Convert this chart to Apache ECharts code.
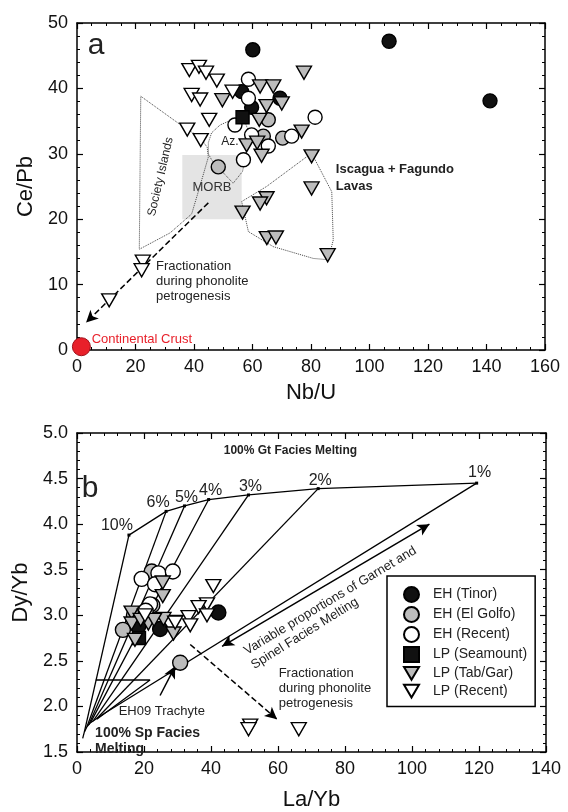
<!DOCTYPE html>
<html><head><meta charset="utf-8">
<script src="https://cdn.jsdelivr.net/npm/echarts/dist/echarts.min.js"></script>
<style>html,body{margin:0;padding:0;background:#fff}#c{width:568px;height:812px}</style>
</head><body><div id="c"></div>
<script>
// ---------- Panel a : Nb/U vs Ce/Pb ----------
const aTinor = [[60.1,45.9],[106.7,47.2],[141.2,38.1],[56.3,39.5],[59.7,37.1],[69.4,38.5]];
const aGolfo = [[65.4,35.2],[63.7,32.7],[70.3,32.4],[48.3,28.0]];
const aRecent = [[58.6,41.4],[58.6,38.5],[54.0,34.4],[59.7,32.9],[65.4,31.2],[73.4,32.7],[81.4,35.6],[56.9,29.1]];
const aSeamount = [[56.6,35.6]];
const aTabGar = [[49.7,38.2],[62.6,40.3],[67.1,40.3],[77.6,42.4],[64.8,37.3],[70.0,37.7],[62.3,35.2],[58.0,31.3],[61.6,31.7],[63.1,29.7],[76.8,33.4],[80.2,29.6],[80.2,24.7],[64.8,23.2],[62.6,22.4],[56.6,21.0],[64.9,17.1],[68.0,17.2],[85.7,14.5]];
const aLPRecent = [[38.4,42.8],[41.7,43.3],[44.1,42.4],[47.8,41.2],[39.2,39.0],[42.1,38.3],[53.2,39.5],[45.2,35.2],[37.7,33.7],[42.3,32.1],[22.5,13.5],[22.1,12.2],[11.0,7.6]];
const aCrust = [[1.5,0.5]];
const societyPoly = [[21.8,38.8],[35.8,34.3],[42.1,32.5],[44.5,31.0],[44.9,29.5],[42.0,25.0],[39.2,20.8],[31.8,17.9],[21.3,15.4],[21.8,38.8]];
const azPoly = [[56.6,35.8],[52.9,35.2],[48.9,34.4],[46.0,33.2],[44.9,31.7],[44.9,30.0],[46.0,29.1],[48.3,27.9],[53.4,25.5],[56.6,27.3],[58.0,30.7],[58.6,33.5],[56.6,35.8]];
const iscPoly = [[80.2,30.1],[87.1,24.2],[87.6,16.8],[85.9,13.8],[80.8,14.0],[69.4,15.5],[67.1,15.8],[58.6,18.1],[56.3,22.7],[64.8,25.0],[80.2,30.1]];
const morbBox = [[36.0,20.0],[56.3,29.8]];
const aFracArrow = [[44.9,22.5],[3.1,4.2]];

// ---------- Panel b : La/Yb vs Dy/Yb ----------
const bTinor = [[42.2,3.03],[24.8,2.85],[18.3,2.88]];
const bGolfo = [[22.3,3.48],[13.7,2.84],[22.5,3.11],[30.8,2.48],[17.0,3.00]];
const bRecent = [[19.3,3.40],[24.3,3.46],[28.6,3.48],[23.3,3.34],[21.8,3.12],[20.5,3.05]];
const bSeamount = [[18.5,2.75]];
const bTabGar = [[25.6,3.36],[25.6,3.21],[16.3,3.03],[16.3,2.91],[21.3,2.91],[25.8,2.96],[28.8,2.80],[17.3,2.73],[19.0,2.95],[23.0,2.95]];
const bLPRecent = [[40.7,3.32],[38.8,3.12],[36.3,3.09],[38.8,3.00],[33.3,2.98],[33.8,2.89],[29.3,2.92],[20.3,3.00],[51.7,1.79],[51.2,1.75],[66.2,1.75]];
const gtCurve = [[15.5,3.88],[26.6,4.14],[32.1,4.20],[39.3,4.27],[51.2,4.32],[72.0,4.39],[119.3,4.45]];
const gtLabels = ['10%','6%','5%','4%','3%','2%','1%'];
const spCurve = [[1.7,1.65],[2.2,1.72],[3.0,1.78],[3.5,1.80],[4.0,1.82],[4.8,1.84],[6.0,1.87],[8.0,1.92]];
const spEnds = [[2.2,1.72],[3.0,1.78],[3.5,1.80],[4.0,1.82],[4.8,1.84],[6.0,1.87],[8.0,1.92]];
const extraLine1 = [[5.6,2.29],[21.8,2.29],[5.9,1.86]];
const extraLine2 = [[20.0,3.0],[33.0,3.0]];
const bMixArrow = [[43.3,2.66],[105.2,4.0]];
const bFracArrow = [[33.8,2.68],[59.7,1.86]];
const bTrachyteArrow = [[24.8,2.12],[29.3,2.44]];

const legendNames = ['EH (Tinor)','EH (El Golfo)','EH (Recent)','LP (Seamount)','LP (Tab/Gar)','LP (Recent)'];

const FONT = '"Liberation Sans", Arial, Helvetica, sans-serif';
const TRI = 'path://M0,0L20,0L10,17Z';
const GREY = '#bcbcbc';

function axisX(grid, min, max, interval, pos, name, show, minorSplit, gap) {
  return {
    type:'value', gridIndex:grid, min, max, interval, position:pos,
    name: show ? name : '', nameLocation:'middle', nameGap:gap || 32,
    nameTextStyle:{fontFamily:FONT, fontSize:22, color:'#111'},
    axisLine:{show:true, onZero:false, lineStyle:{color:'#000', width:1.5}},
    axisTick:{show:true, inside:true, length:6, lineStyle:{color:'#000', width:1.2}},
    minorTick:{show:true, splitNumber:minorSplit, length:3, lineStyle:{color:'#000', width:1}},
    axisLabel:{show:show, fontFamily:FONT, fontSize:18, color:'#111', margin:8},
    splitLine:{show:false}
  };
}
function axisY(grid, min, max, interval, pos, name, show, fmt, minorSplit, gap) {
  return {
    type:'value', gridIndex:grid, min, max, interval, position:pos,
    name: show ? name : '', nameLocation:'middle', nameGap:gap || 41,
    nameTextStyle:{fontFamily:FONT, fontSize:22, color:'#111'},
    axisLine:{show:true, onZero:false, lineStyle:{color:'#000', width:1.5}},
    axisTick:{show:true, inside:true, length:6, lineStyle:{color:'#000', width:1.2}},
    minorTick:{show:true, splitNumber:minorSplit, length:3, lineStyle:{color:'#000', width:1}},
    axisLabel:{show:show, fontFamily:FONT, fontSize:18, color:'#111', margin:9, formatter:fmt},
    splitLine:{show:false}
  };
}

function pts(name, data, g, symbol, size, fill, z) {
  return {
    type:'scatter', name, data, xAxisIndex:g*2, yAxisIndex:g*2, symbol, symbolSize:size,
    itemStyle:{color:fill, borderColor:'#000', borderWidth:1.4, opacity:1},
    z: z || 5, silent:true
  };
}
function poly(data, g, type, width, color) {
  return {
    type:'line', data, xAxisIndex:g*2, yAxisIndex:g*2, symbol:'none', silent:true,
    lineStyle:{color: color || '#000', width: width || 1.2, type: type || 'solid'}, z:2
  };
}
function arrow(seg, g, type, heads) {
  return {
    type:'line', data:[], xAxisIndex:g*2, yAxisIndex:g*2, silent:true, z:3,
    markLine:{silent:true, symbol:heads || ['none','arrow'], symbolSize:[9,12], animation:false,
      label:{show:false},
      lineStyle:{color:'#000', width:1.5, type:type},
      data:[[{coord:seg[0]},{coord:seg[1]}]]}
  };
}

const series = [];
// panel a
series.push({type:'line', data:[], xAxisIndex:0, yAxisIndex:0, z:1, silent:true,
  markArea:{silent:true, itemStyle:{color:'#e4e4e4'},
    label:{show:true, position:'inside', formatter:'MORB', fontFamily:FONT, fontSize:13, color:'#333'},
    data:[[{coord:morbBox[0]},{coord:morbBox[1]}]]}});
series.push(poly(societyPoly,0,'dotted',1,'#444'));
series.push(poly(azPoly,0,'dotted',1,'#444'));
series.push(poly(iscPoly,0,'dotted',1,'#444'));
series.push(arrow(aFracArrow,0,'dashed'));
series.push(pts('EH (Tinor)', aTinor, 0, 'circle', 14, '#111'));
series.push(pts('EH (El Golfo)', aGolfo, 0, 'circle', 14, GREY));
series.push(pts('EH (Recent)', aRecent, 0, 'circle', 14, '#fff'));
series.push(pts('LP (Seamount)', aSeamount, 0, 'rect', 13, '#111'));
series.push(pts('LP (Tab/Gar)', aTabGar, 0, TRI, [15,13], GREY));
series.push(pts('LP (Recent)', aLPRecent, 0, TRI, [15,13], '#fff'));
series.push({type:'scatter', name:'Continental Crust', data:aCrust, xAxisIndex:0, yAxisIndex:0,
  symbol:'circle', symbolSize:18, itemStyle:{color:'#e8202a', borderColor:'#a0101a', borderWidth:1, opacity:1}, z:6, silent:true});

// panel b lines
const gtOffsets = [[-12,3],[-8,4],[2,4],[2,4],[2,4],[2,4],[3,2]];
series.push({type:'line', xAxisIndex:2, yAxisIndex:2, silent:true, z:3,
  data: gtCurve.map((p,i)=>({value:p, label:{show:true, formatter:gtLabels[i], position:'top', offset:gtOffsets[i], distance:3,
      fontFamily:FONT, fontSize:16, color:'#222'}})),
  symbol:'rect', symbolSize:3, showSymbol:true, itemStyle:{color:'#000'},
  lineStyle:{color:'#000', width:1.3}});
series.push(poly(spCurve,1,'solid',1.3));
gtCurve.forEach((p,i)=>series.push(poly([p, spEnds[i]],1,'solid',1.3)));
series.push(poly(extraLine1,1,'solid',1.3));
series.push(poly(extraLine2,1,'solid',1.3));
series.push(arrow(bMixArrow,1,'solid',['arrow','arrow']));
series.push(arrow(bFracArrow,1,'dashed'));
series.push(arrow(bTrachyteArrow,1,'solid'));
series.push(pts('EH (Tinor)', bTinor, 1, 'circle', 15, '#111'));
series.push(pts('EH (El Golfo)', bGolfo, 1, 'circle', 15, GREY));
series.push(pts('EH (Recent)', bRecent, 1, 'circle', 15, '#fff'));
series.push(pts('LP (Seamount)', bSeamount, 1, 'rect', 13, '#111'));
series.push(pts('LP (Tab/Gar)', bTabGar, 1, TRI, [15,13], GREY));
series.push(pts('LP (Recent)', bLPRecent, 1, TRI, [15,13], '#fff'));

const chart = echarts.init(document.getElementById('c'), null, {renderer:'canvas'});
chart.setOption({
  animation:false,
  backgroundColor:'#fff',
  textStyle:{fontFamily:FONT},
  grid:[
    {left:77, top:23, width:468, height:327},
    {left:77, top:433, width:469, height:327}
  ],
  xAxis:[
    axisX(0,0,160,20,'bottom','Nb/U',true,4,32),
    axisX(0,0,160,20,'top','',false,4),
    axisX(1,0,140,20,'bottom','La/Yb',true,5,37),
    axisX(1,0,140,20,'top','',false,5)
  ],
  yAxis:[
    axisY(0,0,50,10,'left','Ce/Pb',true,null,5,40),
    axisY(0,0,50,10,'right','',false,null,5),
    axisY(1,1.5,5,0.5,'left','Dy/Yb',true,v=>v.toFixed(1),5,42),
    axisY(1,1.5,5,0.5,'right','',false,null,5)
  ],
  legend:{
    data:legendNames, orient:'vertical', left:387, top:576,
    padding:[10,8,8,16], itemWidth:15, itemHeight:15, itemGap:3,
    borderColor:'#000', borderWidth:1.5, backgroundColor:'#fff',
    selectedMode:false,
    textStyle:{fontFamily:FONT, fontSize:14, color:'#222', padding:[0,0,0,9]}
  },
  series
});

// annotations positioned in data coordinates
function px(g, p){ return chart.convertToPixel({gridIndex:g}, p); }
const notes = [
  {g:0, p:[6.5,46.5], t:'a', size:30, align:'center', va:'middle'},
  {g:0, p:[28.6,26.5], t:'Society Islands', size:12, align:'center', va:'middle', rot:77},
  {g:0, p:[52.3,31.8], t:'Az.', size:12, align:'center', va:'middle'},
  {g:0, p:[88.5,28.9], t:'Iscagua + Fagundo\nLavas', size:13, align:'left', va:'top', bold:true, lh:17},
  {g:0, p:[27.0,14.0], t:'Fractionation\nduring phonolite\npetrogenesis', size:13, align:'left', va:'top', lh:15},
  {g:0, p:[5.0,1.6], t:'Continental Crust', size:13, align:'left', va:'middle', color:'#e8202a'},
  {g:1, p:[3.9,4.39], t:'b', size:30, align:'center', va:'middle'},
  {g:1, p:[63.7,4.81], t:'100% Gt Facies Melting', size:12, align:'center', va:'middle', bold:true},
  {g:1, p:[25.3,1.95], t:'EH09 Trachyte', size:13, align:'center', va:'middle'},
  {g:1, p:[5.4,1.79], t:'100% Sp Facies\nMelting', size:14, align:'left', va:'top', bold:true, lh:16},
  {g:1, p:[60.2,2.44], t:'Fractionation\nduring phonolite\npetrogenesis', size:13, align:'left', va:'top', lh:15},
  {g:1, p:[75.6,3.16], t:'Variable proportions of Garnet and', size:13, align:'center', va:'middle', rot:31},
  {g:1, p:[68.0,2.80], t:'Spinel Facies Melting', size:13, align:'center', va:'middle', rot:32}
];
chart.setOption({graphic: notes.map(n=>{
  const q = px(n.g, n.p);
  return {type:'text', x:q[0], y:q[1], rotation:(n.rot||0)*Math.PI/180, z:100, silent:true,
    style:{text:n.t, fill:n.color||'#222', align:n.align, verticalAlign:n.va,
      font:(n.bold?'bold ':'')+n.size+'px '+FONT, lineHeight:n.lh||n.size}};
})});
</script></body></html>
